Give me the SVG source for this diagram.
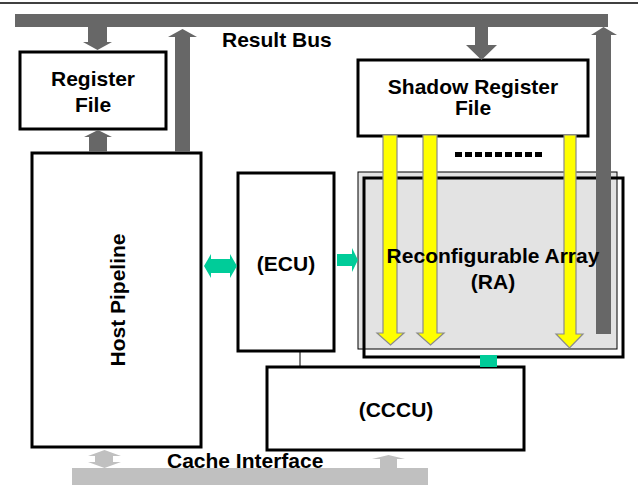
<svg xmlns="http://www.w3.org/2000/svg" width="638" height="485" viewBox="0 0 638 485">
<style>
.box{fill:#fff;stroke:#000;stroke-width:3}
.t{font-family:"Liberation Sans",Arial,sans-serif;font-weight:bold;font-size:21px;fill:#000}
.m{text-anchor:middle}
.dg{fill:#676767}
.lg{fill:#c0c0c0}
.gr{fill:#00cc99}
.ye{fill:#ffff00;stroke:#8a8a8a;stroke-width:1.2}
</style>
<rect width="638" height="485" fill="#fff"/>
<line x1="0" y1="3" x2="638" y2="3" stroke="#000" stroke-width="1.5"/>

<g id="result-bus">
<rect class="dg" x="15" y="14" width="593" height="13"/>
<text class="t" x="222" y="47">Result Bus</text>
</g>

<g id="cache-interface">
<rect class="lg" x="72" y="468" width="356" height="17"/>
<text class="t" x="167" y="468">Cache Interface</text>
</g>

<g id="register-file">
<rect class="box" x="20" y="52" width="146" height="77"/>
<text class="t m" x="93" y="86">Register</text>
<text class="t m" x="93" y="112">File</text>
</g>

<g id="host-pipeline">
<rect class="box" x="32" y="153" width="169" height="294"/>
<text class="t m" transform="translate(125,300) rotate(-90)">Host Pipeline</text>
</g>

<g id="ecu">
<rect class="box" x="238" y="173" width="96" height="178"/>
<text class="t m" x="286" y="271">(ECU)</text>
</g>

<g id="shadow-register-file">
<rect class="box" x="358" y="60" width="230" height="76"/>
<text class="t m" x="473" y="94">Shadow Register</text>
<text class="t m" x="473" y="115">File</text>
</g>

<g id="reconfigurable-array">
<rect x="358" y="172" width="259" height="177" fill="#e3e3e3" stroke="#000" stroke-width="1"/>
<rect x="364" y="178" width="259" height="179" fill="none" stroke="#000" stroke-width="3"/>
</g>

<g id="cccu">
<rect class="box" x="267" y="367" width="257" height="83"/>
<text class="t m" x="396" y="417">(CCCU)</text>
</g>

<g id="connectors">
<polygon class="dg" points="88,27 107,27 107,42 112,42 97.5,50 83,42 88,42"/>
<polygon class="dg" points="89,152 107,152 107,137 112,137 98,130 84,137 89,137"/>
<polygon class="dg" points="175,152 190,152 190,37 197,37 182.5,29 168,37 175,37"/>
<polygon class="dg" points="475,27 488,27 488,45 497,45 481.5,60 466,45 475,45"/>
<polygon class="dg" points="596,334 611,334 611,35 617,35 603.5,27 591,35 596,35"/>
<polygon class="ye" points="383,135 397,135 397,333 404,333 390.5,345 377,333 383,333"/>
<polygon class="ye" points="423,135 437,135 437,333 444,333 430.5,345 417,333 423,333"/>
<polygon class="ye" points="564,135 576,135 576,334 583,334 569.5,348 556,334 564,334"/>
<line x1="455" y1="154.5" x2="544" y2="154.5" stroke="#000" stroke-width="5" stroke-dasharray="7 3"/>
<polygon class="gr" points="204,266 211,254 211,259 230,259 230,254 237,266 230,278 230,273 211,273 211,278"/>
<polygon class="gr" points="337,254 352,254 352,248 358,260 352,272 352,266 337,266"/>
<rect class="gr" x="480" y="355" width="17" height="12"/>
<line x1="300" y1="352" x2="300" y2="366" stroke="#000" stroke-width="1"/>
<polygon class="lg" points="104.5,450 121,456 113,456 113,462 121,462 104.5,468 88,462 95,462 95,456 88,456"/>
<polygon class="lg" points="380,468 397,468 397,459 405,459 388.5,455 372,459 380,459"/>
</g>

<g id="reconfigurable-array-label">
<text class="t m" x="493" y="263">Reconfigurable Array</text>
<text class="t m" x="493" y="289">(RA)</text>
</g>
</svg>
